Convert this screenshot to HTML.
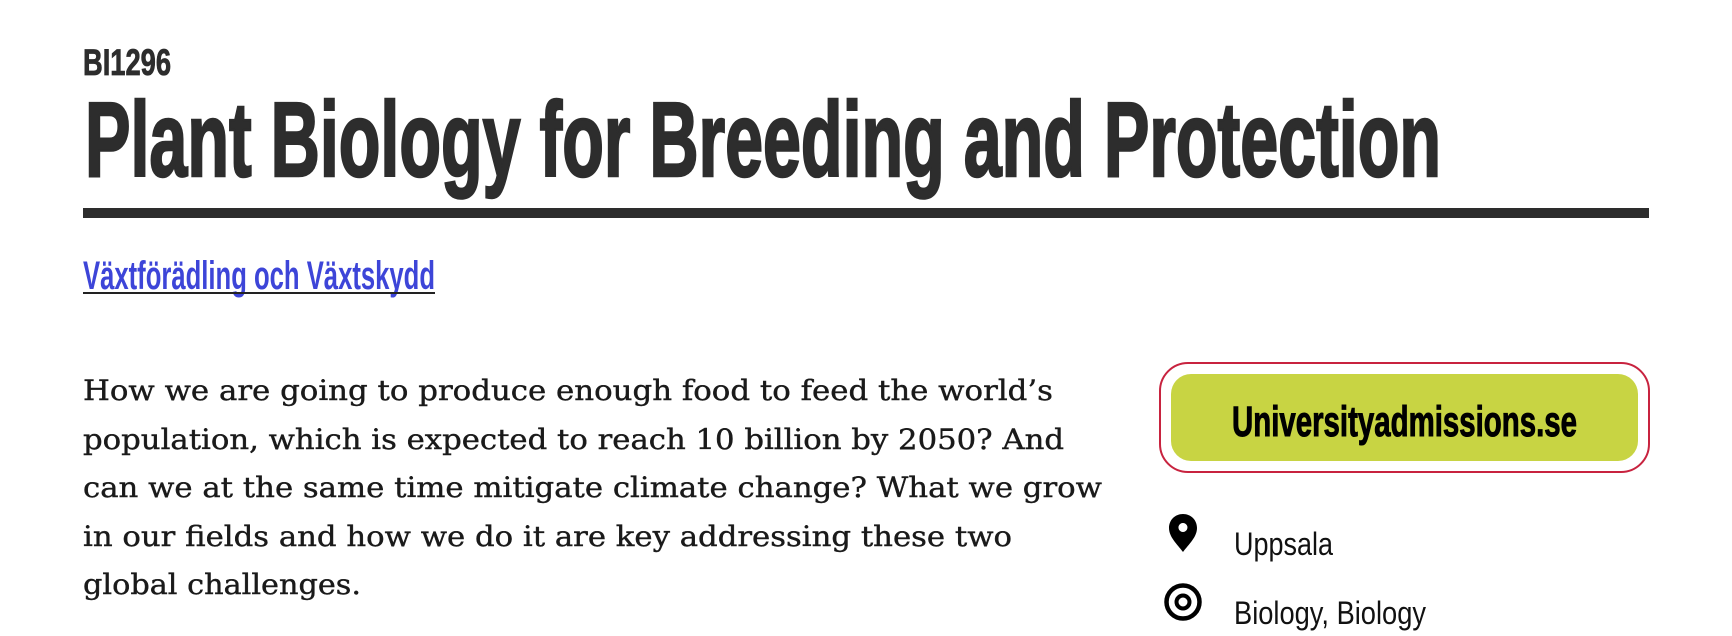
<!DOCTYPE html>
<html><head><meta charset="utf-8"><style>
html,body{margin:0;padding:0;background:#fff;}
svg{display:block;}
</style></head><body>
<svg width="1732" height="636" viewBox="0 0 1732 636">
<g font-family="'Liberation Sans Narrow','Liberation Sans',sans-serif" fill="#2d2d2d" stroke="#2d2d2d">
<text x="83" y="75" font-size="37" font-weight="bold" stroke-width="0.8" textLength="88" lengthAdjust="spacingAndGlyphs">BI1296</text>
<text x="85" y="176" font-size="106" font-weight="bold" stroke-width="2.5" textLength="1356" lengthAdjust="spacingAndGlyphs">Plant Biology for Breeding and Protection</text>
</g>
<rect x="83" y="208" width="1566" height="10" fill="#2d2d2d"/>
<g>
<text x="83" y="289" font-family="'Liberation Sans Narrow','Liberation Sans',sans-serif" font-size="40" font-weight="bold" fill="#3d45d8" textLength="352" lengthAdjust="spacingAndGlyphs">Växtförädling och Växtskydd</text>
<rect x="83" y="292" width="352" height="2" fill="#222"/>
</g>
<g font-family="'DejaVu Serif','Liberation Serif',serif" font-size="28" fill="#1a1a1a" stroke="#1a1a1a" stroke-width="0.4">
<text x="83" y="400" textLength="970" lengthAdjust="spacingAndGlyphs">How we are going to produce enough food to feed the world’s</text>
<text x="83" y="449" textLength="981" lengthAdjust="spacingAndGlyphs">population, which is expected to reach 10 billion by 2050? And</text>
<text x="83" y="497" textLength="1019" lengthAdjust="spacingAndGlyphs">can we at the same time mitigate climate change? What we grow</text>
<text x="83" y="546" textLength="929" lengthAdjust="spacingAndGlyphs">in our fields and how we do it are key addressing these two</text>
<text x="83" y="594" textLength="278" lengthAdjust="spacingAndGlyphs">global challenges.</text>
</g>
<g>
<rect x="1160" y="363" width="489" height="109" rx="28" fill="#fff" stroke="#c8233f" stroke-width="2"/>
<rect x="1171" y="374" width="467" height="87" rx="20" fill="#c8d443"/>
<text x="1232" y="436" font-family="'Liberation Sans Narrow','Liberation Sans',sans-serif" font-size="43" font-weight="bold" fill="#000" stroke="#000" stroke-width="1" textLength="345" lengthAdjust="spacingAndGlyphs">Universityadmissions.se</text>
</g>
<g>
<path d="M1183 514 C1175 514 1169 520 1169 528 C1169 537 1177 544 1183 552 C1189 544 1197 537 1197 528 C1197 520 1191 514 1183 514 Z M1183 523 A4.5 4.5 0 1 1 1182.9 523 Z" fill="#000" fill-rule="evenodd"/>
<text x="1234" y="555" font-family="'Liberation Sans Narrow','Liberation Sans',sans-serif" font-size="32" fill="#111" textLength="99" lengthAdjust="spacingAndGlyphs">Uppsala</text>
</g>
<g>
<g>
<circle cx="1183" cy="602" r="16.5" fill="none" stroke="#000" stroke-width="4.5"/>
<circle cx="1183" cy="602" r="6.5" fill="none" stroke="#000" stroke-width="4"/>
</g>
<text x="1234" y="624" font-family="'Liberation Sans Narrow','Liberation Sans',sans-serif" font-size="32" fill="#111" textLength="192" lengthAdjust="spacingAndGlyphs">Biology, Biology</text>
</g>
</svg>
</body></html>
